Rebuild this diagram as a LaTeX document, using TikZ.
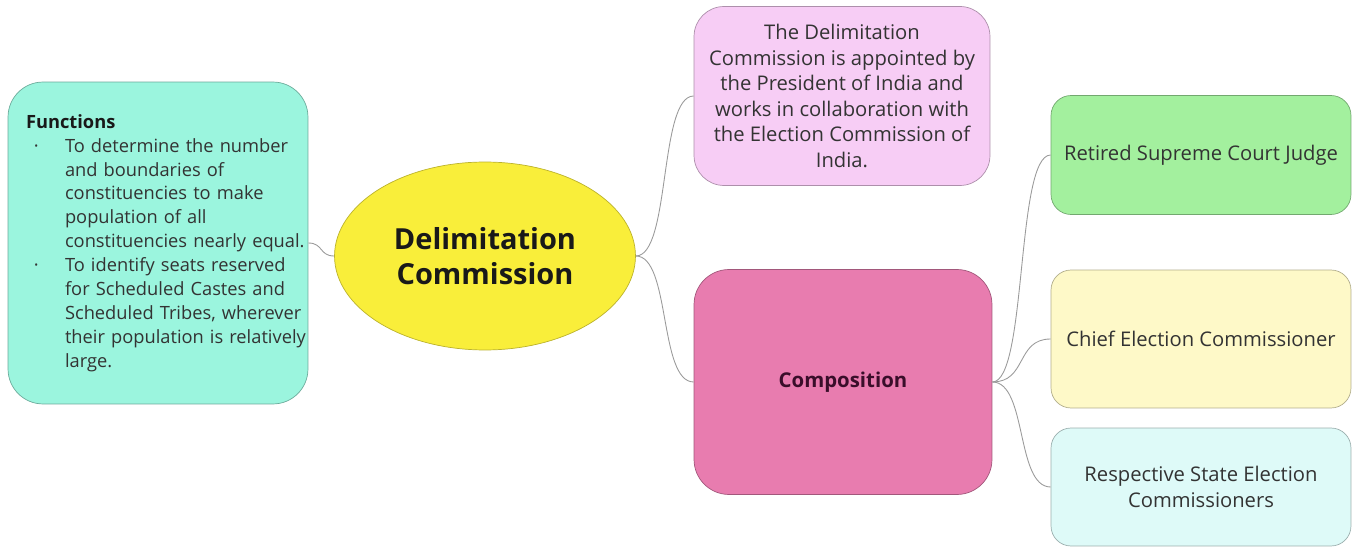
\documentclass[tikz,border=0pt]{standalone}
\usepackage{fontspec}
\setmainfont{Open Sans}
\usetikzlibrary{shapes.geometric}

\definecolor{funcfill}{HTML}{9BF5DE}
\definecolor{ellfill}{HTML}{F9EE3A}
\definecolor{apptfill}{HTML}{F7CDF5}
\definecolor{compfill}{HTML}{E87CAF}
\definecolor{judgefill}{HTML}{A3F09E}
\definecolor{chieffill}{HTML}{FEF9C8}
\definecolor{statefill}{HTML}{DEFAF8}
\definecolor{linkgray}{HTML}{9A9A9A}
\definecolor{comptext}{HTML}{3A0E2A}

\newcommand{\fitem}[1]{\mbox{\hspace*{4.5pt}\makebox[17.7pt][l]{\textperiodcentered}#1}}
\newcommand{\fcont}[1]{\mbox{\hspace*{22.2pt}#1}}

\begin{document}
\begin{tikzpicture}[x=0.02cm,y=-0.02cm,
  box/.style={rectangle,draw=#1!70!black,fill=#1,line width=0.4pt,inner sep=0pt,
    align=center,text=black!80,font=\fontsize{11.5}{14.5}\selectfont},
  rightbox/.style={box=#1,rounded corners=0.4cm,minimum width=6cm},
  link/.style={draw=linkgray,line width=0.5pt}]
\useasboundingbox (0,0) rectangle (1356,550);

% Nodes (centre and branches)
\node[ellipse,draw=ellfill!75!black,fill=ellfill,line width=0.4pt,inner sep=0pt,
  minimum width=6.02cm,minimum height=3.76cm,align=center,text=black!90,
  font=\fontsize{16.5}{20}\selectfont\bfseries] (dc) at (485,256) {Delimitation\\Commission};

\node[box=funcfill,rounded corners=0.7cm,minimum width=6cm,minimum height=6.44cm,
  text width=5.28cm,align=left,font=\fontsize{10.4}{13.6}\selectfont] (fun) at (158,243)
  {{\bfseries\color{black!90}Functions}\\
   \fitem{To determine the number}\\
   \fcont{and boundaries of}\\
   \fcont{constituencies to make}\\
   \fcont{population of all}\\
   \fcont{constituencies nearly equal.}\\
   \fitem{To identify seats reserved}\\
   \fcont{for Scheduled Castes and}\\
   \fcont{Scheduled Tribes, wherever}\\
   \fcont{their population is relatively}\\
   \fcont{large.}};

\node[box=apptfill,rounded corners=0.6cm,minimum width=5.92cm,minimum height=3.58cm] (appt) at (842,96)
  {The Delimitation\\Commission is appointed by\\the President of India and\\works in collaboration with\\the Election Commission of\\India.};

\node[box=compfill,rounded corners=0.7cm,minimum width=5.96cm,minimum height=4.5cm,
  text=comptext,font=\fontsize{11.6}{14}\selectfont\bfseries] (comp) at (843,382) {Composition};

\node[rightbox=judgefill,minimum height=2.38cm] (judge) at (1201,155) {Retired Supreme Court Judge};
\node[rightbox=chieffill,minimum height=2.76cm] (chief) at (1201,339) {Chief Election Commissioner};
\node[rightbox=statefill,minimum height=2.36cm] (state) at (1201,487) {Respective State Election\\Commissioners};

% Edges (thin curved links)
\draw[link] (fun.east) .. controls +(15,0) and +(-15,0) .. (dc.west);
\draw[link] (dc.east) .. controls +(35,0) and +(-35,0) .. (appt.west);
\draw[link] (dc.east) .. controls +(35,0) and +(-35,0) .. (comp.west);
\draw[link] (comp.east) .. controls +(35,0) and +(-35,0) .. (judge.west);
\draw[link] (comp.east) .. controls +(35,0) and +(-35,0) .. (chief.west);
\draw[link] (comp.east) .. controls +(35,0) and +(-35,0) .. (state.west);
\end{tikzpicture}
\end{document}
